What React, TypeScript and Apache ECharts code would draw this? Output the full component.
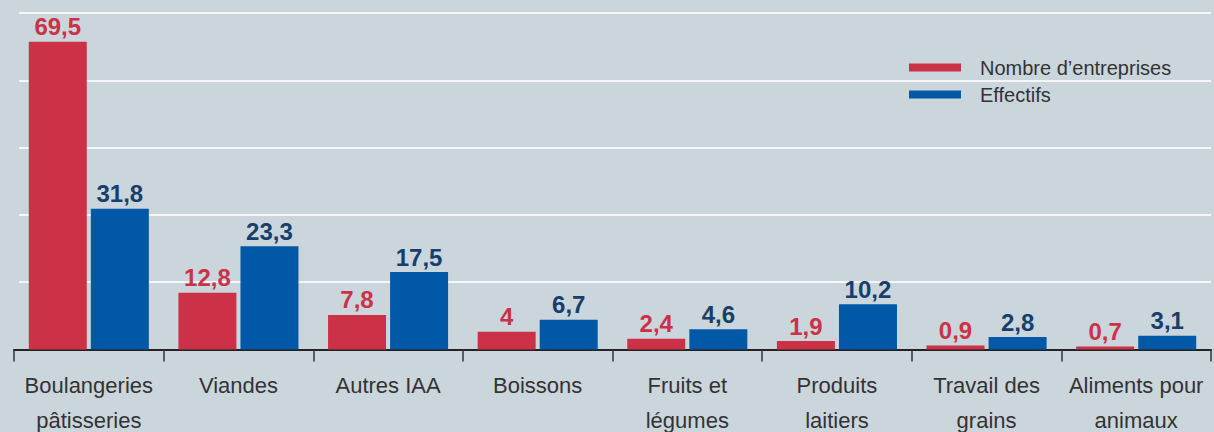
import React, { useEffect, useRef } from "react";
import * as echarts from "echarts";

const categories = [
  "Boulangeries\npâtisseries",
  "Viandes",
  "Autres IAA",
  "Boissons",
  "Fruits et\nlégumes",
  "Produits\nlaitiers",
  "Travail des\ngrains",
  "Aliments pour\nanimaux",
];
const seriesNames = ["Nombre d’entreprises", "Effectifs"];
const entreprises = [69.5, 12.8, 7.8, 4, 2.4, 1.9, 0.9, 0.7];
const effectifs = [31.8, 23.3, 17.5, 6.7, 4.6, 10.2, 2.8, 3.1];

const FONT = "'Liberation Sans', Arial, Helvetica, sans-serif";
const RED = "#cb3247";
const BLUE = "#0058a6";
const BLUE_LABEL = "#163f6c";
const BG = "#cbd5dc";

const fmt = (p: any) => String(p.value).replace(".", ",");

export default function App() {
  const ref = useRef<HTMLDivElement>(null);
  useEffect(() => {
    document.body.style.margin = "0";
    const chart = echarts.init(ref.current!, undefined, { renderer: "svg" });
    const top = 13;
    const bottom = 432 - 349.5;
    chart.setOption({
      animation: false,
      backgroundColor: BG,
      textStyle: { fontFamily: FONT },
      legend: {
        data: seriesNames,
        orient: "vertical",
        left: 909,
        top: 57,
        padding: 0,
        icon: "rect",
        itemWidth: 52,
        itemHeight: 8,
        itemGap: 6,
        textStyle: {
          fontFamily: FONT,
          fontSize: 20,
          lineHeight: 21,
          color: "#333",
          padding: [0, 0, 0, 14],
        },
      },
      grid: [
        { left: 19, right: 3, top, bottom, outerBoundsMode: "none", containLabel: false },
        { left: 14, right: 3, top, bottom, outerBoundsMode: "none", containLabel: false },
      ],
      xAxis: [
        { type: "value", gridIndex: 0, show: false, min: 0, max: 1 },
        {
          type: "category",
          gridIndex: 1,
          data: categories,
          axisLine: { show: true, lineStyle: { color: "#222", width: 2 } },
          axisTick: { show: true, length: 12, lineStyle: { color: "#333", width: 1.5 } },
          axisLabel: {
            interval: 0,
            margin: 18,
            fontFamily: FONT,
            fontSize: 22,
            lineHeight: 35,
            color: "#333",
          },
        },
      ],
      yAxis: [
        {
          type: "value",
          gridIndex: 0,
          min: 0,
          max: 76,
          interval: 15.2,
          axisLine: { show: false },
          axisTick: { show: false },
          axisLabel: { show: false },
          splitLine: { show: true, lineStyle: { color: "#f4f6f8", width: 2 } },
        },
        {
          type: "value",
          gridIndex: 1,
          min: 0,
          max: 76,
          interval: 15.2,
          axisLine: { show: false },
          axisTick: { show: false },
          axisLabel: { show: false },
          splitLine: { show: false },
        },
      ],
      series: [
        {
          name: seriesNames[0],
          type: "bar",
          xAxisIndex: 1,
          yAxisIndex: 1,
          data: entreprises,
          barWidth: 58,
          barGap: "7%",
          itemStyle: { color: RED },
          label: {
            show: true,
            position: "top",
            distance: 3,
            formatter: fmt,
            fontFamily: FONT,
            fontSize: 24,
            fontWeight: "bold",
            color: RED,
          },
        },
        {
          name: seriesNames[1],
          type: "bar",
          xAxisIndex: 1,
          yAxisIndex: 1,
          data: effectifs,
          barWidth: 58,
          barGap: "7%",
          itemStyle: { color: BLUE },
          label: {
            show: true,
            position: "top",
            distance: 3,
            formatter: fmt,
            fontFamily: FONT,
            fontSize: 24,
            fontWeight: "bold",
            color: BLUE_LABEL,
          },
        },
      ],
    });
    return () => chart.dispose();
  }, []);
  return <div ref={ref} style={{ width: 1214, height: 432 }} />;
}
